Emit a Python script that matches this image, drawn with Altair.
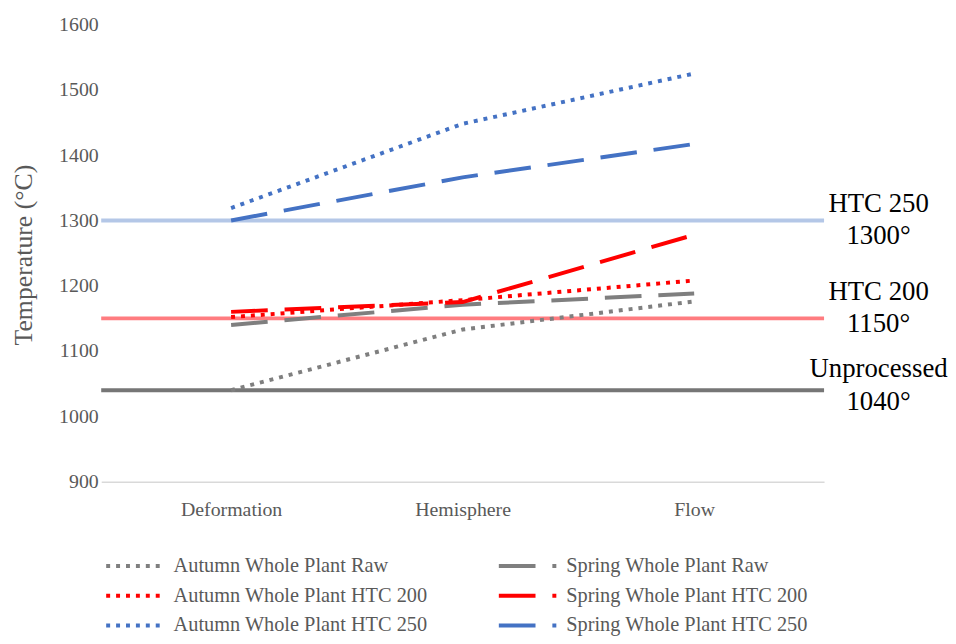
import altair as alt
import pandas as pd

# ---------------- data ----------------
categories = ["Deformation", "Hemisphere", "Flow"]

series_names = [
    "Autumn Whole Plant Raw",
    "Autumn Whole Plant HTC 200",
    "Autumn Whole Plant HTC 250",
    "Spring Whole Plant Raw",
    "Spring Whole Plant HTC 200",
    "Spring Whole Plant HTC 250",
]

autumn_raw = [1040, 1133, 1176]
autumn_htc200 = [1152, 1178, 1208]
autumn_htc250 = [1319, 1448, 1525]
spring_raw = [1140, 1171, 1188]
spring_htc200 = [1160, 1175, 1278]
spring_htc250 = [1300, 1366, 1417]

ref_values = [1300, 1150, 1040]
ref_labels = ["HTC 250\n1300°", "HTC 200\n1150°", "Unprocessed\n1040°"]

y_ticks = [900, 1000, 1100, 1200, 1300, 1400, 1500, 1600]

# ---------------- styles ----------------
FONT = "Liberation Serif"
series_colors = ["#7f7f7f", "#ff0000", "#4472c4", "#7f7f7f", "#ff0000", "#4472c4"]
dot = [4, 6]
dash = [37, 17]
series_dashes = [dot, dot, dot, dash, dash, dash]
ref_colors = ["#b4c7e7", "#ff7c80", "#767676"]
label_dy = [-9, -19, -13]

rows = []
for name, vals in zip(
    series_names,
    [autumn_raw, autumn_htc200, autumn_htc250, spring_raw, spring_htc200, spring_htc250],
):
    for c, v in zip(categories, vals):
        rows.append({"stage": c, "temp": v, "series": name})
df = pd.DataFrame(rows)

y_title = "Temperature (°C)"

x_enc = alt.X(
    "stage:N",
    sort=categories,
    scale=alt.Scale(type="point", padding=0.561),
    axis=alt.Axis(
        title=None,
        labelAngle=0,
        ticks=False,
        grid=False,
        domainColor="#d9d9d9",
        domainWidth=1.5,
        labelFont=FONT,
        labelFontSize=20,
        labelColor="#595959",
        labelPadding=18,
    ),
)

y_scale = alt.Scale(domain=[900, 1600], nice=False, zero=False)
y_axis = alt.Axis(
    values=y_ticks,
    format="d",
    title=y_title,
    grid=False,
    domain=False,
    ticks=False,
    labelFont=FONT,
    labelFontSize=20,
    labelColor="#595959",
    labelPadding=3,
    titleFont=FONT,
    titleFontSize=26,
    titleFontWeight="normal",
    titleColor="#595959",
    titleX=-78,
    titleY=232,
    titleAngle=270,
    titleBaseline="middle",
    titleAlign="center",
)

legend = alt.Legend(
    title=None,
    orient="none",
    legendX=3,
    legendY=531,
    columns=2,
    symbolType="stroke",
    symbolSize=3364,
    symbolStrokeWidth=4,
    clipHeight=30,
    labelFont=FONT,
    labelFontSize=20.5,
    labelColor="#595959",
    labelOffset=8,
    labelLimit=400,
    columnPadding=69,
    rowPadding=0,
)

lines = (
    alt.Chart(df)
    .mark_line(strokeWidth=4, strokeCap="butt")
    .encode(
        x=x_enc,
        y=alt.Y("temp:Q", scale=y_scale, axis=y_axis),
        color=alt.Color(
            "series:N",
            scale=alt.Scale(domain=series_names, range=series_colors),
            legend=legend,
        ),
        strokeDash=alt.StrokeDash(
            "series:N",
            scale=alt.Scale(domain=series_names, range=series_dashes),
            legend=legend,
        ),
        detail="series:N",
    )
)

layers = []
for val, col in zip(ref_values, ref_colors):
    layers.append(
        alt.Chart(pd.DataFrame({"temp": [val]}))
        .mark_rule(strokeWidth=4, color=col)
        .encode(y=alt.Y("temp:Q", scale=y_scale, axis=y_axis))
    )

layers.append(lines)

for val, lab, d in zip(ref_values, ref_labels, label_dy):
    layers.append(
        alt.Chart(pd.DataFrame({"temp": [val], "label": [lab]}))
        .mark_text(
            font=FONT,
            fontSize=27,
            align="center",
            baseline="alphabetic",
            lineBreak="\n",
            lineHeight=33,
            dy=d,
            color="black",
        )
        .encode(
            x=alt.value(784),
            y=alt.Y("temp:Q", scale=y_scale, axis=y_axis),
            text="label:N",
        )
    )

chart = (
    alt.layer(*layers)
    .properties(
        width=729,
        height=461,
        autosize=alt.AutoSizeParams(type="none"),
        padding={"left": 94, "top": 14, "right": 125, "bottom": 153},
        background="white",
    )
    .configure_view(stroke=None)
)

chart.save("out.html", embed_options={"renderer": "svg", "actions": False})
